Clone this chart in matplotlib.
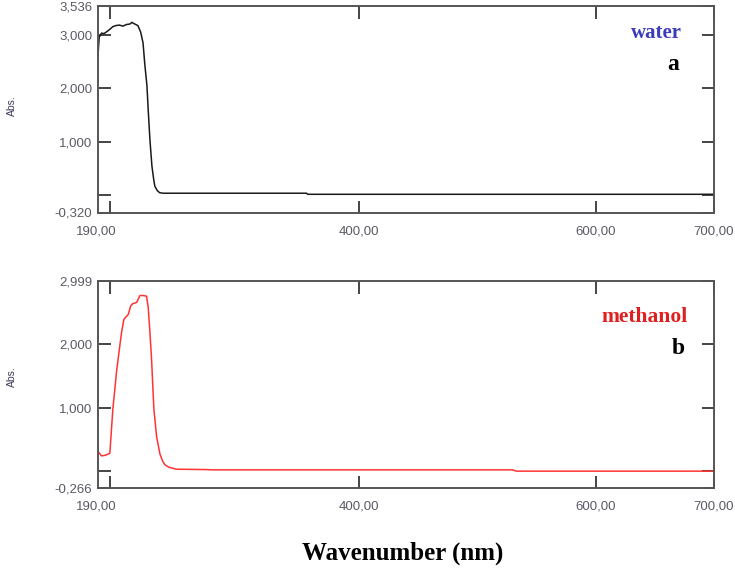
import matplotlib
matplotlib.use("Agg")
import matplotlib.pyplot as plt
import matplotlib.transforms as mtransforms
import numpy as np

# ---- data ----
water_nm = [180, 181, 183, 185, 187, 190, 192.5, 195, 198, 201, 204, 207, 208.6, 211,
            213.7, 216, 218, 219.5, 221.3, 222.5, 223.8, 225.5, 227, 228, 230, 232, 235,
            240, 300, 356, 357, 450, 600, 700]
water_abs = [2.62, 2.95, 3.03, 3.02, 3.05, 3.10, 3.15, 3.17, 3.18, 3.16, 3.19, 3.20, 3.23, 3.20,
             3.17, 3.05, 2.85, 2.45, 2.05, 1.55, 1.05, 0.55, 0.30, 0.17, 0.09, 0.05, 0.04,
             0.04, 0.04, 0.04, 0.02, 0.02, 0.02, 0.02]

meth_nm = [180, 183, 186, 190, 192.5, 195.6, 198.5, 200, 201.8, 203, 205.5, 207.5, 209.2, 212.6,
           215.4, 218, 221, 222.4, 223.8, 225.2, 227.2, 229.5, 232.3, 234.5, 236.5, 240,
           246.4, 270, 277, 300, 400, 530, 533, 600, 700]
meth_abs = [0.31, 0.24, 0.25, 0.28, 0.97, 1.56, 1.99, 2.20, 2.39, 2.42, 2.47, 2.60, 2.64, 2.66,
            2.77, 2.77, 2.76, 2.58, 2.20, 1.77, 0.97, 0.54, 0.27, 0.16, 0.10, 0.06,
            0.03, 0.025, 0.02, 0.02, 0.02, 0.02, 0.0, 0.0, 0.0]

x_ticks = [190, 400, 600, 700]
x_labels = ["190,00", "400,00", "600,00", "700,00"]

top_yticks = [-0.320, 0, 1, 2, 3, 3.536]
top_ylabels = ["-0,320", "", "1,000", "2,000", "3,000", "3,536"]
bot_yticks = [-0.266, 0, 1, 2, 2.999]
bot_ylabels = ["-0,266", "", "1,000", "2,000", "2,999"]

W, H = 735, 574
fig = plt.figure(figsize=(W / 100, H / 100), dpi=100)

tick_col = "#5a5a66"
spine_col = "#555555"
sans = ["Liberation Sans", "DejaVu Sans"]


def make_ax(rect, ylim, yticks, ylabels, x, y, color, label_y):
    ax = fig.add_axes(rect)
    ax.plot(x, y, color=color, lw=1.1)
    ax.set_xlim(180, 700)
    ax.set_ylim(*ylim)
    ax.set_xticks(x_ticks)
    ax.set_xticklabels(x_labels, family=sans)
    ax.set_yticks(yticks)
    ax.set_yticklabels(ylabels, family=sans)
    ax.tick_params(direction="in", length=9, width=1.4, color="#444444",
                   labelsize=9.5, labelcolor=tick_col, top=True, right=True)
    ax.tick_params(axis="x", pad=9)
    ax.tick_params(axis="y", pad=4)
    for s in ax.spines.values():
        s.set_color(spine_col)
        s.set_linewidth(1.4)
    # shift first x label to the left
    lab = ax.get_xticklabels()[0]
    lab.set_transform(lab.get_transform() + mtransforms.ScaledTranslation(-14 / 100, 0, fig.dpi_scale_trans))
    fig.text(12 / W, 1 - label_y / H, "Abs.", rotation=90, ha="center", va="center",
             fontsize=7.5, color="#3a3a5a", family=sans)
    return ax


ax1 = make_ax([98 / W, 1 - 212.5 / H, 616 / W, 206.5 / H], (-0.320, 3.536),
              top_yticks, top_ylabels, water_nm, water_abs, "#1a1a1a", 106)
ax2 = make_ax([98 / W, 1 - 488 / H, 616 / W, 207 / H], (-0.266, 2.999),
              bot_yticks, bot_ylabels, meth_nm, meth_abs, "#ff3333", 377)

serif = ["Liberation Serif", "DejaVu Serif"]
fig.text(656 / W, 1 - 33 / H, "water", color="#3b3bbf", fontsize=15, fontweight="bold",
         family=serif, ha="center", va="center")
fig.text(673 / W, 1 - 65 / H, "a", color="black", fontsize=17, fontweight="bold",
         family=serif, ha="center", va="center")
fig.text(645 / W, 1 - 317 / H, "methanol", color="#e02020", fontsize=15.5, fontweight="bold",
         family=serif, ha="center", va="center")
fig.text(678 / W, 1 - 348 / H, "b", color="black", fontsize=17, fontweight="bold",
         family=serif, ha="center", va="center")
fig.text(403 / W, 1 - 553 / H, "Wavenumber (nm)", color="black", fontsize=18,
         fontweight="bold", family=serif, ha="center", va="center")

fig.savefig("out.png", dpi=100)
